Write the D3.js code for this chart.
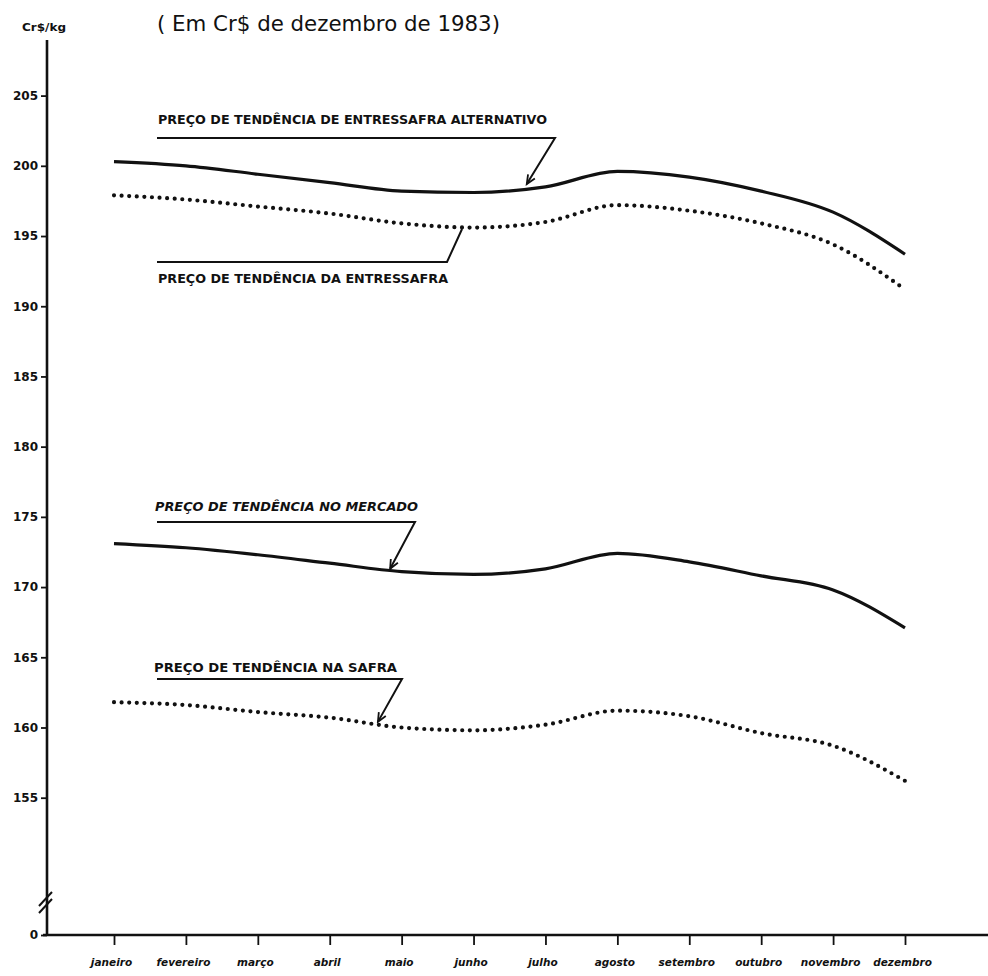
<!DOCTYPE html>
<html><head><meta charset="utf-8">
<script src="https://cdn.jsdelivr.net/npm/d3@7"></script>
<style>
html,body{margin:0;padding:0;background:#fff;}
svg{display:block;}
text{fill:#111;}
</style></head>
<body>
<svg id="chart" width="988" height="976"></svg>
<script>
// ---- data ----
const months = ["janeiro","fevereiro","março","abril","maio","junho","julho","agosto","setembro","outubro","novembro","dezembro"];
const entressafraAlternativo = [200.3, 200.0, 199.4, 198.8, 198.2, 198.1, 198.5, 199.6, 199.2, 198.2, 196.7, 193.7];
const entressafra = [197.9, 197.6, 197.1, 196.6, 195.9, 195.6, 196.0, 197.2, 196.8, 195.9, 194.4, 191.2];
const mercado = [173.1, 172.8, 172.3, 171.7, 171.1, 170.9, 171.3, 172.4, 171.8, 170.8, 169.8, 167.1];
const safra = [161.8, 161.6, 161.1, 160.7, 160.0, 159.8, 160.2, 161.2, 160.8, 159.6, 158.7, 156.2];
const yTicks = [0, 155, 160, 165, 170, 175, 180, 185, 190, 195, 200, 205];
const titleText = "( Em Cr$ de dezembro de 1983)";
const unitText = "Cr$/kg";
// annotations: label text, target point (month index, value)
const annotations = [
  {text: "PREÇO DE TENDÊNCIA DE ENTRESSAFRA ALTERNATIVO", tipIndex: 5.74, tipValue: 198.7, arrow: true},
  {text: "PREÇO DE TENDÊNCIA DA ENTRESSAFRA", tipIndex: 4.84, tipValue: 195.5, arrow: false},
  {text: "PREÇO DE TENDÊNCIA NO MERCADO", tipIndex: 3.84, tipValue: 171.3, arrow: true},
  {text: "PREÇO DE TENDÊNCIA NA SAFRA", tipIndex: 3.67, tipValue: 160.4, arrow: true}
];

// ---- layout ----
const svg = d3.select("#chart");
const axisX = 47, axisY = 935;
const x = d3.scaleLinear().domain([0, 11]).range([114, 905]);
const y = d3.scaleLinear().domain([0, 148, 205]).range([935, 896, 95.6]);

// title & unit
svg.append("text").attr("x", 157).attr("y", 31)
  .attr("font-family", "DejaVu Sans").attr("font-size", 22)
  .attr("textLength", 343).attr("lengthAdjust", "spacingAndGlyphs")
  .text(titleText);
svg.append("text").attr("x", 22).attr("y", 31)
  .attr("font-family", "DejaVu Sans").attr("font-weight", "bold").attr("font-size", 11)
  .attr("textLength", 44).attr("lengthAdjust", "spacingAndGlyphs")
  .text(unitText);

// y axis
const yAxis = d3.axisLeft(y).tickValues(yTicks).tickSize(6).tickPadding(3).tickFormat(d3.format("d"));
const gy = svg.append("g").attr("transform", `translate(${axisX},0)`).call(yAxis);
gy.select(".domain").remove();
gy.selectAll(".tick line").attr("stroke", "#111").attr("stroke-width", 1.8);
gy.selectAll(".tick text").attr("font-family", "DejaVu Sans").attr("font-weight", "bold")
  .attr("font-size", 12).attr("fill", "#111");
svg.append("line").attr("x1", axisX).attr("x2", axisX).attr("y1", 40).attr("y2", axisY + 1)
  .attr("stroke", "#111").attr("stroke-width", 2.6);
// axis break marks
[0, 7].forEach(off => {
  svg.append("line").attr("x1", axisX - 8).attr("y1", 906 + off).attr("x2", axisX + 5).attr("y2", 892 + off)
    .attr("stroke", "#111").attr("stroke-width", 2);
});

// x axis
const xAxis = d3.axisBottom(x).tickValues(d3.range(12)).tickSize(10).tickPadding(14)
  .tickFormat(i => months[i]);
const gx = svg.append("g").attr("transform", `translate(0,${axisY})`).call(xAxis);
gx.select(".domain").remove();
gx.selectAll(".tick line").attr("stroke", "#111").attr("stroke-width", 1.8);
gx.selectAll(".tick text").attr("font-family", "DejaVu Sans").attr("font-weight", "bold")
  .attr("font-style", "italic").attr("font-size", 10.5).attr("fill", "#111").attr("dx", -3);
svg.append("line").attr("x1", axisX - 4).attr("x2", 988).attr("y1", axisY).attr("y2", axisY)
  .attr("stroke", "#111").attr("stroke-width", 2.6);

// series
const line = d3.line().x((d, i) => x(i)).y(d => y(d)).curve(d3.curveMonotoneX);
function solid(data) {
  svg.append("path").datum(data).attr("d", line).attr("fill", "none")
    .attr("stroke", "#111").attr("stroke-width", 3.2).attr("stroke-linejoin", "round");
}
function dotted(data) {
  svg.append("path").datum(data).attr("d", line).attr("fill", "none")
    .attr("stroke", "#111").attr("stroke-width", 4.2).attr("stroke-linecap", "round")
    .attr("stroke-dasharray", "0 7.6");
}
solid(entressafraAlternativo);
dotted(entressafra);
solid(mercado);
dotted(safra);

// arrow marker
svg.append("defs").append("marker").attr("id", "arr")
  .attr("viewBox", "-10 -6 12 12").attr("refX", 0).attr("refY", 0)
  .attr("markerWidth", 12).attr("markerHeight", 12).attr("markerUnits", "userSpaceOnUse")
  .attr("orient", "auto")
  .append("path").attr("d", "M-9,-4 L0,0 L-9,4").attr("fill", "none")
  .attr("stroke", "#111").attr("stroke-width", 1.8);

// annotations (label layout in pixels, tip from scales)
const annLayout = [
  {tx: 158, ty: 124, tw: 389, lineY: 138, x1: 157, x2: 555, italic: false},
  {tx: 158, ty: 283, tw: 290, lineY: 262, x1: 157, x2: 447, italic: false},
  {tx: 155, ty: 511, tw: 263, lineY: 522, x1: 157, x2: 415, italic: true},
  {tx: 154, ty: 672, tw: 243, lineY: 679, x1: 157, x2: 402, italic: false}
];
annotations.forEach((a, i) => {
  const L = annLayout[i];
  svg.append("text").attr("x", L.tx).attr("y", L.ty)
    .attr("font-family", "DejaVu Sans").attr("font-weight", "bold").attr("font-size", 12)
    .attr("font-style", L.italic ? "italic" : "normal")
    .attr("textLength", L.tw).attr("lengthAdjust", "spacingAndGlyphs")
    .text(a.text);
  svg.append("path")
    .attr("d", `M${L.x1},${L.lineY} L${L.x2},${L.lineY} L${x(a.tipIndex)},${y(a.tipValue)}`)
    .attr("fill", "none").attr("stroke", "#111").attr("stroke-width", 2)
    .attr("marker-end", a.arrow ? "url(#arr)" : null);
});
</script>
</body></html>
